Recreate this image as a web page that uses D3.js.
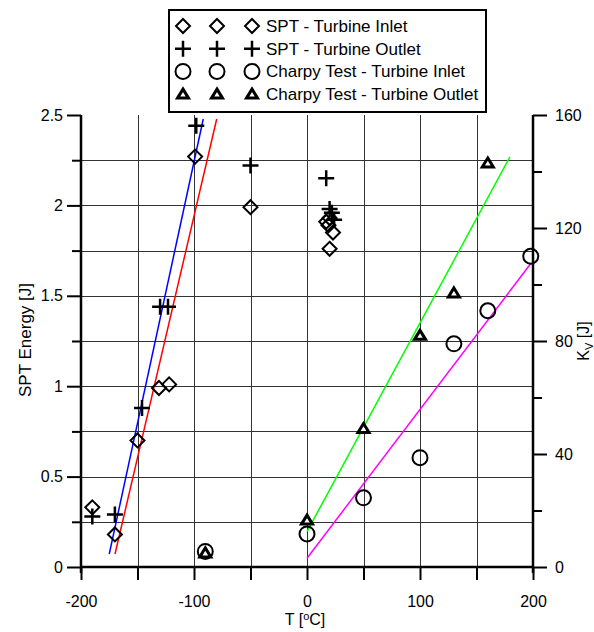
<!DOCTYPE html>
<html>
<head>
<meta charset="utf-8">
<script src="https://cdn.jsdelivr.net/npm/d3@7"></script>
<style>
  body { margin: 0; background: #fff; }
  text { font-family: "Liberation Sans", Arial, sans-serif; }
</style>
</head>
<body>
<script>
const svgWidth = 594;
const svgHeight = 632;

// data: [T (°C), value]
const sptInlet = [[-190, 0.33], [-170, 0.18], [-150, 0.70], [-131, 0.99], [-122, 1.01], [-99, 2.27],
                  [-50, 1.99], [17, 1.91], [19, 1.89], [23, 1.85], [20, 1.93], [20, 1.76]];
const sptOutlet = [[-190, 0.28], [-170, 0.29], [-146, 0.88], [-130, 1.44], [-123, 1.44], [-98, 2.44],
                   [-50, 2.22], [17, 2.15], [20, 1.98], [22, 1.96], [24, 1.92]];
const charpyInlet = [[-90, 5.5], [0, 11.7], [50, 24.5], [100, 38.7], [130, 79], [160, 90.7], [198, 110]];
const charpyOutlet = [[-90, 5], [0, 16.6], [50, 49], [100, 82], [130, 97], [160, 143]];

// fitted lines, endpoints
const fitSptBlue = [[-175, 0.072], [-91.8, 2.478]];
const fitSptRed = [[-169.9, 0.072], [-79.9, 2.478]];
const fitCharpyGreen = [[0, 12.5], [179.6, 145.2]];
const fitCharpyMagenta = [[0, 3.1], [198.2, 107.5]];

const legendLabels = ['SPT - Turbine Inlet', 'SPT - Turbine Outlet', 'Charpy Test - Turbine Inlet', 'Charpy Test - Turbine Outlet'];

const xTicks = [-200, -100, 0, 100, 200];
const yTicks = [0, 0.5, 1, 1.5, 2, 2.5];
const y2Ticks = [0, 40, 80, 120, 160];

const pLeft = 81, pRight = 533, pTop = 115, pBottom = 567;

const svg = d3.select('body')
              .append('svg')
              .attr('width', svgWidth)
              .attr('height', svgHeight);

const x = d3.scaleLinear().domain([-200, 200]).range([pLeft, pRight]);
const y = d3.scaleLinear().domain([0, 2.5]).range([pBottom, pTop]);
const y2 = d3.scaleLinear().domain([0, 160]).range([pBottom, pTop]);

// grid
const grid = svg.append('g').attr('stroke', '#333').attr('stroke-width', 1);
grid.selectAll('.gx')
    .data(d3.range(-150, 200, 50))
    .enter().append('line')
    .attr('x1', d => Math.round(x(d)) + 0.5).attr('x2', d => Math.round(x(d)) + 0.5)
    .attr('y1', pTop).attr('y2', pBottom);
grid.selectAll('.gy')
    .data(d3.range(0.25, 2.5, 0.25))
    .enter().append('line')
    .attr('x1', pLeft).attr('x2', pRight)
    .attr('y1', d => Math.round(y(d)) + 0.5).attr('y2', d => Math.round(y(d)) + 0.5);

// axes
const xAxis = d3.axisBottom(x).tickValues(d3.range(-200, 201, 50)).tickSize(13)
                .tickFormat(d => xTicks.includes(d) ? d : '');
const gx = svg.append('g').attr('transform', `translate(0,${pBottom})`).call(xAxis);

const yAxis = d3.axisLeft(y).tickValues(d3.range(0, 2.51, 0.25)).tickSize(14)
                .tickFormat(d => yTicks.some(t => Math.abs(t - d) < 1e-6) ? d : '');
const gy = svg.append('g').attr('transform', `translate(${pLeft},0)`).call(yAxis);

const y2Axis = d3.axisRight(y2).tickValues(d3.range(0, 161, 20)).tickSize(14)
                 .tickFormat(d => y2Ticks.includes(d) ? d : '');
const gy2 = svg.append('g').attr('transform', `translate(${pRight},0)`).call(y2Axis);

[gx, gy, gy2].forEach(g => {
  g.select('.domain').remove();
  g.selectAll('line').attr('stroke', '#000').attr('stroke-width', 2);
  g.selectAll('text').attr('fill', '#000').style('font-size', '16px');
});
gy.selectAll('.tick').filter(d => !yTicks.some(t => Math.abs(t - d) < 1e-6))
  .select('line').attr('x2', -9);
gy2.selectAll('.tick').filter(d => !y2Ticks.includes(d)).select('line').attr('x2', 9);
gx.selectAll('text').attr('y', 40).attr('dy', 0);
gy.selectAll('text').attr('x', -18);
gy2.selectAll('text').attr('x', 22);

// axis lines
svg.append('line').attr('x1', pLeft - 1).attr('x2', pRight + 1).attr('y1', pBottom).attr('y2', pBottom)
   .attr('stroke', '#000').attr('stroke-width', 2.5);
svg.append('line').attr('x1', pLeft).attr('x2', pLeft).attr('y1', pTop).attr('y2', pBottom + 6)
   .attr('stroke', '#000').attr('stroke-width', 2.5);
svg.append('line').attr('x1', pRight).attr('x2', pRight).attr('y1', pTop).attr('y2', pBottom + 6)
   .attr('stroke', '#000').attr('stroke-width', 2.5);

// titles
const tt = svg.append('text').attr('x', 305).attr('y', 625).attr('text-anchor', 'middle')
   .style('font-size', '16px');
tt.append('tspan').text('T [');
tt.append('tspan').attr('dy', -5).style('font-size', '11px').text('o');
tt.append('tspan').attr('dy', 5).text('C]');
svg.append('text').attr('transform', 'translate(25,340) rotate(-90)').attr('text-anchor', 'middle')
   .attr('dy', '0.35em').style('font-size', '17px').text('SPT Energy [J]');
const kv = svg.append('text').attr('transform', 'translate(583,341) rotate(-90)').attr('text-anchor', 'middle')
   .attr('dy', '0.35em').style('font-size', '16px');
kv.append('tspan').text('K');
kv.append('tspan').attr('dy', 4).style('font-size', '11px').text('V');
kv.append('tspan').attr('dy', -4).text(' [J]');

// fit lines
const line = d3.line();
const fits = [
  { pts: fitSptBlue, sc: y, color: '#0000ff' },
  { pts: fitSptRed, sc: y, color: '#ff0000' },
  { pts: fitCharpyGreen, sc: y2, color: '#00ff00' },
  { pts: fitCharpyMagenta, sc: y2, color: '#ff00ff' }
];
fits.forEach(f => {
  svg.append('path')
     .attr('d', line(f.pts.map(p => [x(p[0]), f.sc(p[1])])))
     .attr('fill', 'none').attr('stroke', f.color).attr('stroke-width', 1.5);
});

// markers
function drawMarker(g, type, cx, cy) {
  if (type === 'diamond') {
    g.append('path').attr('d', `M${cx},${cy - 7}L${cx + 7},${cy}L${cx},${cy + 7}L${cx - 7},${cy}Z`)
     .attr('fill', 'none').attr('stroke', '#000').attr('stroke-width', 2);
  } else if (type === 'plus') {
    g.append('path').attr('d', `M${cx - 8},${cy}H${cx + 8}M${cx},${cy - 8}V${cy + 8}`)
     .attr('stroke', '#000').attr('stroke-width', 2.5);
  } else if (type === 'circle') {
    g.append('circle').attr('cx', cx).attr('cy', cy).attr('r', 7.5)
     .attr('fill', 'none').attr('stroke', '#000').attr('stroke-width', 2);
  } else {
    g.append('path').attr('d', `M${cx},${cy - 5}L${cx + 5.5},${cy + 4}L${cx - 5.5},${cy + 4}Z`)
     .attr('fill', '#fff').attr('stroke', '#000').attr('stroke-width', 3).attr('stroke-linejoin', 'miter');
  }
}

const series = [
  { data: sptInlet, sc: y, type: 'diamond' },
  { data: sptOutlet, sc: y, type: 'plus' },
  { data: charpyInlet, sc: y2, type: 'circle' },
  { data: charpyOutlet, sc: y2, type: 'triangle' }
];
const marks = svg.append('g');
series.forEach(s => {
  s.data.forEach(d => drawMarker(marks, s.type, x(d[0]), s.sc(d[1])));
});

// legend
const lg = svg.append('g');
lg.append('rect').attr('x', 169).attr('y', 10).attr('width', 317).attr('height', 102)
  .attr('fill', '#fff').attr('stroke', '#000').attr('stroke-width', 2);
series.forEach((s, i) => {
  const ry = 26 + i * 22.7;
  [183, 217, 252].forEach(lx => drawMarker(lg, s.type, lx, ry));
  lg.append('text').attr('x', 266).attr('y', ry + 6).style('font-size', '17px').text(legendLabels[i]);
});
</script>
</body>
</html>
